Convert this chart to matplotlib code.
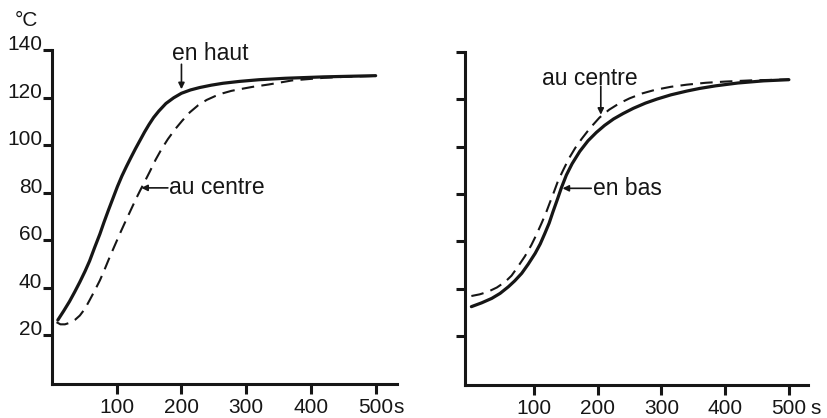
import matplotlib
matplotlib.use("Agg")
import matplotlib.pyplot as plt

plt.rcParams['font.family'] = ['Liberation Sans', 'DejaVu Sans']

# left panel: "en haut" (solid) and "au centre" (dashed)
t_haut = [9, 18, 27, 35, 43, 51, 58, 66, 74, 80, 87, 94, 101, 108, 115, 122, 129, 136, 143, 150,
          157, 165, 176, 188, 200, 214, 228, 246, 264, 290, 320, 360, 420, 500]
T_haut = [26.4, 30.2, 34.2, 38.2, 42.4, 46.9, 51.2, 57, 62.6, 67.3, 72.5, 77.5, 82.5, 87, 91, 94.8, 98.5, 102, 105.5, 108.7,
          111.6, 114.3, 117.5, 119.9, 121.8, 123.2, 124.2, 125.2, 126, 126.8, 127.5, 128.1, 128.7, 129.2]

t_centre_l = [7, 13, 20, 28, 36, 43, 51, 58, 66, 74, 81, 89, 97, 105, 112, 118, 125, 130, 136, 143,
              151, 160, 169, 179, 190, 201, 213, 226, 239, 252, 264, 277, 290, 310, 335, 371, 420, 460, 500]
T_centre_l = [25.5, 24.6, 24.6, 25.3, 26.6, 28.3, 31.2, 34.7, 38.8, 43.1, 47.5, 52.8, 57.8, 62.8, 67, 70.5, 74.6, 77.5, 80.8, 84.5,
              88.8, 93.8, 98.2, 102.5, 106.6, 110.2, 113.8, 116.8, 119, 120.6, 121.8, 122.8, 123.5, 124.5, 125.5, 127.2, 128.3, 128.8, 129.1]

# right panel: "en bas" (solid) and "au centre" (dashed)
t_bas = [2, 18, 34, 47, 60, 70, 81, 91, 102, 110, 117, 124, 130, 137, 143, 151, 160, 172, 185, 198,
         211, 225, 240, 256, 275, 293, 315, 340, 360, 385, 420, 460, 500]
T_bas = [32.4, 34, 35.9, 38, 40.8, 43.3, 46.5, 50.3, 54.9, 58.9, 63.2, 67.7, 72.5, 77.8, 82.5, 88, 92.8, 98, 102.5, 106,
         109, 111.7, 114, 116.2, 118.4, 120.1, 121.9, 123.5, 124.6, 125.7, 126.9, 127.8, 128.3]

t_centre_r = [2, 15, 28, 42, 55, 65, 75, 86, 96, 104, 112, 119, 125, 132, 138, 146, 155, 165, 175, 188,
              203, 218, 234, 250, 270, 290, 315, 340, 370, 400, 440, 500]
T_centre_r = [36.9, 37.6, 38.7, 40.5, 42.9, 45.5, 49.3, 53.7, 58.4, 62.8, 67.6, 72, 76.3, 81.2, 85.6, 90.1, 95, 99.5, 103.3, 107.8,
              112.3, 115.6, 118.3, 120.4, 122.5, 124, 125.3, 126.2, 127, 127.5, 128, 128.4]

xticks = [100, 200, 300, 400, 500]
yticks = [20, 40, 60, 80, 100, 120, 140]

ink = '#161616'
fs_tick = 15
fs_note = 16.5

fig = plt.figure(figsize=(8.28, 4.18), dpi=100)
axL = fig.add_axes([52/828, 1-384/418, 345/828, 334/418])
axR = fig.add_axes([465/828, 1-385/418, 343/828, 333/418])


def style(ax, show_ylabels, s_offset):
    for s in ['top', 'right']:
        ax.spines[s].set_visible(False)
    for s in ['left', 'bottom']:
        ax.spines[s].set_linewidth(2.2)
        ax.spines[s].set_color(ink)
    ax.set_xticks(xticks)
    ax.set_xticklabels([str(v) for v in xticks], fontsize=fs_tick, color=ink)
    ax.set_yticks(yticks)
    if show_ylabels:
        ax.set_yticklabels([str(v) for v in yticks], fontsize=fs_tick, color=ink)
        for lab in ax.get_yticklabels():
            lab.set_verticalalignment('baseline')
    else:
        ax.set_yticklabels([])
    ax.tick_params(axis='x', length=7, width=2.2, color=ink, pad=3)
    ax.tick_params(axis='y', length=6.5, width=2.2, color=ink, pad=0.5)
    # unit after the last tick label
    ax.annotate('s', xy=(500, 0), xycoords=('data', 'axes fraction'),
                xytext=(s_offset, -10), textcoords='offset points',
                fontsize=fs_tick, color=ink, ha='left', va='top')


style(axL, True, 12.5)
style(axR, False, 15.5)

axL.plot(t_haut, T_haut, color=ink, lw=2.3, solid_capstyle='round', solid_joinstyle='round')
axL.plot(t_centre_l, T_centre_l, color=ink, lw=1.5, dashes=(6, 3.5))
axL.set_xlim(0, 533)
axL.set_ylim(-0.5, 140)

axR.plot(t_bas, T_bas, color=ink, lw=2.3, solid_capstyle='round', solid_joinstyle='round')
axR.plot(t_centre_r, T_centre_r, color=ink, lw=1.5, dashes=(6, 3.5))
axR.set_xlim(-8, 530)
axR.set_ylim(-0.7, 140)

arrow = dict(arrowstyle='-|>', color=ink, lw=1.2, mutation_scale=9, shrinkA=0, shrinkB=0)

# labels with arrows
axL.text(186, 138.5, 'en haut', fontsize=fs_note, color=ink, ha='left', va='center')
axL.annotate('', xy=(200, 123.5), xytext=(200, 134), arrowprops=arrow)
axL.text(181, 82, 'au centre', fontsize=fs_note, color=ink, ha='left', va='center')
axL.annotate('', xy=(138, 82), xytext=(179, 82), arrowprops=arrow)

axR.text(112, 129, 'au centre', fontsize=fs_note, color=ink, ha='left', va='center')
axR.annotate('', xy=(205, 113.5), xytext=(205, 125.5), arrowprops=arrow)
axR.text(192, 82.4, 'en bas', fontsize=fs_note, color=ink, ha='left', va='center')
axR.annotate('', xy=(145, 82.4), xytext=(190, 82.4), arrowprops=arrow)

fig.text(15/828, 1-20/418, '°C', fontsize=fs_tick, color=ink, ha='left', va='center')

fig.savefig('out.png', dpi=100, facecolor='white')
